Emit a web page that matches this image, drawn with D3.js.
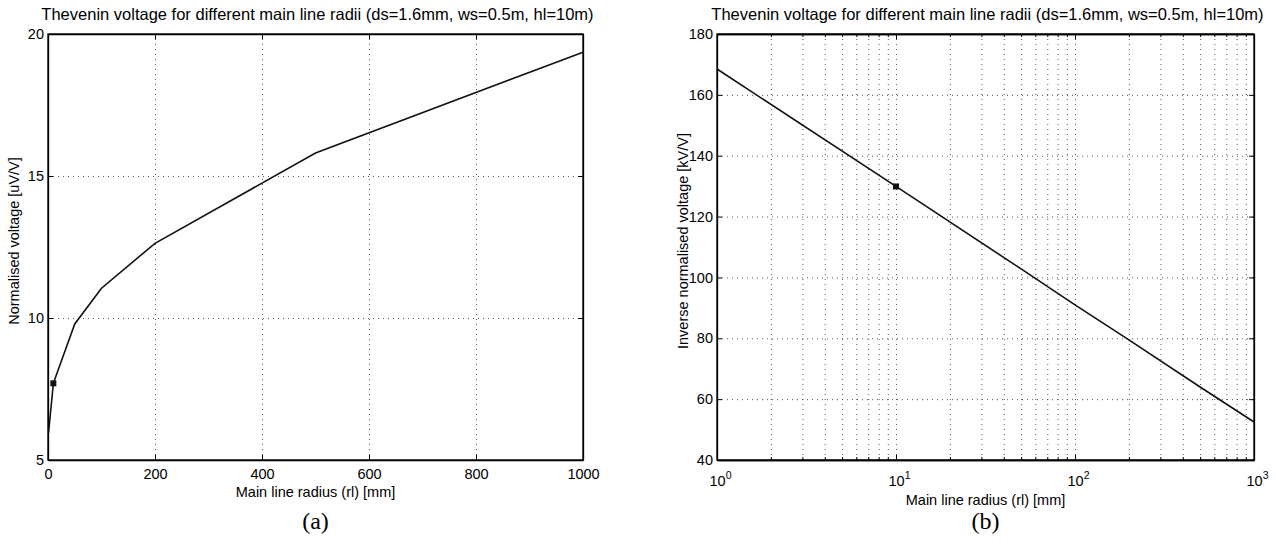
<!DOCTYPE html>
<html>
<head>
<meta charset="utf-8">
<script src="https://d3js.org/d3.v7.min.js"></script>
<style>
body { margin: 0; background: #fff; }
svg { font-family: "Liberation Sans", Arial, sans-serif; }
.grid line { stroke: #444; stroke-dasharray: 1,4; stroke-width: 0.9; }
.grid path { display: none; }
.ax path { stroke: #000; stroke-width: 1.3; }
.ax line { stroke: #000; stroke-width: 1; }
.ax text { font-size: 14.5px; fill: #000; }
</style>
</head>
<body>
<svg width="1276" height="550"></svg>
<script>
// values
var radius = [1, 10, 50, 100, 200, 500, 1000];            // main line radius rl [mm]
var normVoltage = [5.95, 7.7, 9.79, 11.05, 12.63, 15.81, 19.36]; // uV/V
var invVoltage = [168.5, 129.9, 102.8, 91, 79.5, 64, 52.5];      // kV/V
var markIdx = 1; // the marked point (rl = 10 mm)

var titleText = "Thevenin voltage for different main line radii (ds=1.6mm, ws=0.5m, hl=10m)";
var xTicksA = [0, 200, 400, 600, 800, 1000];
var yTicksA = [5, 10, 15, 20];
var yTicksB = [40, 60, 80, 100, 120, 140, 160, 180];
var decadesB = [1, 10, 100, 1000];

var svg = d3.select("svg");
var plotTop = 34, plotBottom = 460;

function panel(left, right, x, y, xTickVals, xMinor, yTickVals, xFmt, ylabel, vals, caption, xlabelY) {
  var w = right - left, h = plotBottom - plotTop;
  var g = svg.append("g").attr("transform", "translate(" + left + "," + plotTop + ")");

  // dotted grid
  var gx = xTickVals.concat(xMinor).filter(function(d) { return x(d) > 0.5 && x(d) < w - 0.5; });
  g.append("g").attr("class", "grid").attr("transform", "translate(0," + h + ")")
    .call(d3.axisBottom(x).tickValues(gx).tickSize(-h).tickFormat(""));
  var gy = yTickVals.filter(function(d) { return y(d) > 0.5 && y(d) < h - 0.5; });
  g.append("g").attr("class", "grid")
    .call(d3.axisLeft(y).tickValues(gy).tickSize(-w).tickFormat(""));

  // box with inward ticks
  var bx = g.append("g").attr("class", "ax").attr("transform", "translate(0," + h + ")")
    .call(d3.axisBottom(x).tickValues(xTickVals).tickSize(-5).tickSizeOuter(0).tickPadding(9).tickFormat(xFmt));
  g.append("g").attr("class", "ax")
    .call(d3.axisTop(x).tickValues(xTickVals).tickSize(-5).tickSizeOuter(0).tickFormat(""));
  if (xMinor.length) {
    g.append("g").attr("class", "ax").attr("transform", "translate(0," + h + ")")
      .call(d3.axisBottom(x).tickValues(xMinor).tickSize(-3).tickSizeOuter(0).tickFormat(""));
    g.append("g").attr("class", "ax")
      .call(d3.axisTop(x).tickValues(xMinor).tickSize(-3).tickSizeOuter(0).tickFormat(""));
  }
  g.append("g").attr("class", "ax")
    .call(d3.axisLeft(y).tickValues(yTickVals).tickSize(-5).tickSizeOuter(0).tickPadding(4));
  g.append("g").attr("class", "ax").attr("transform", "translate(" + w + ",0)")
    .call(d3.axisRight(y).tickValues(yTickVals).tickSize(-5).tickSizeOuter(0).tickFormat(""));
  g.append("rect").attr("width", w).attr("height", h)
    .attr("fill", "none").attr("stroke", "#000").attr("stroke-width", 1.3);

  // curve
  var line = d3.line().x(function(d, i) { return x(radius[i]); }).y(function(d) { return y(d); });
  g.append("path").datum(vals).attr("d", line)
    .attr("fill", "none").attr("stroke", "#111").attr("stroke-width", 1.6);
  g.append("rect")
    .attr("x", x(radius[markIdx]) - 3).attr("y", y(vals[markIdx]) - 3)
    .attr("width", 6).attr("height", 6).attr("fill", "#111");

  // texts
  svg.append("text").attr("x", left + w / 2 + 2).attr("y", 20)
    .attr("text-anchor", "middle").attr("font-size", 16.5).text(titleText);
  svg.append("text").attr("x", left + w / 2).attr("y", xlabelY)
    .attr("text-anchor", "middle").attr("font-size", 14.5).text("Main line radius (rl) [mm]");
  svg.append("text").attr("transform", "translate(" + (left - 29) + "," + (plotTop + h / 2 - 6) + ") rotate(-90)")
    .attr("text-anchor", "middle").attr("font-size", 14.5).text(ylabel);
  svg.append("text").attr("x", left + w / 2).attr("y", 529)
    .attr("text-anchor", "middle").attr("font-family", "'Liberation Serif', 'Times New Roman', serif")
    .attr("font-size", 24).text(caption);
  return bx;
}

// (a) linear
var xA = d3.scaleLinear().domain([0, 1000]).range([0, 583 - 48]);
var yA = d3.scaleLinear().domain([5, 20]).range([plotBottom - plotTop, 0]);
panel(48, 583, xA, yA, xTicksA, [], yTicksA, d3.format("d"),
  "Normalised voltage [uV/V]", normVoltage, "(a)", 497);

// (b) log x
var xB = d3.scaleLog().domain([1, 1000]).range([0, 1254 - 717]);
var yB = d3.scaleLinear().domain([40, 180]).range([plotBottom - plotTop, 0]);
var minorB = [];
decadesB.slice(0, -1).forEach(function(d) {
  for (var k = 2; k <= 9; k++) minorB.push(d * k);
});
var bxB = panel(717, 1254, xB, yB, decadesB, minorB, yTicksB, function() { return ""; },
  "Inverse normalised voltage [kV/V]", invVoltage, "(b)", 505);

// 10^n labels on the log axis
bxB.selectAll(".tick text").each(function(d) {
  var t = d3.select(this).attr("dy", null).attr("y", 26).attr("dx", 3);
  t.append("tspan").text("10");
  t.append("tspan").attr("dy", -7).attr("font-size", 10.5).text(Math.round(Math.log10(d)));
});
</script>
</body>
</html>
